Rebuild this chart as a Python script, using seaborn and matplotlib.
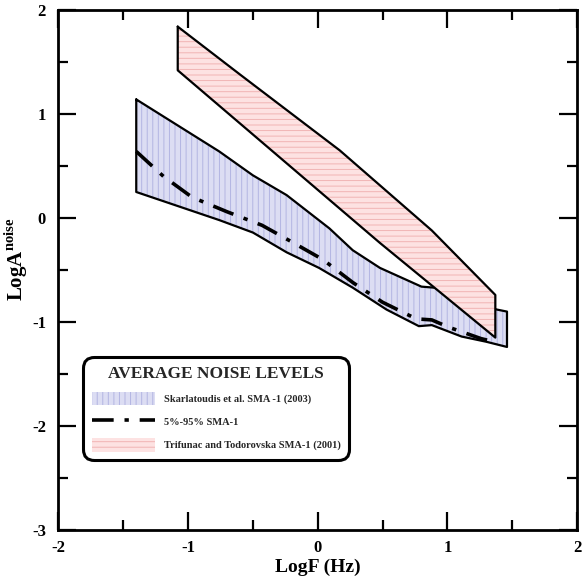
import matplotlib
matplotlib.use('Agg')
import matplotlib.pyplot as plt
import seaborn as sns
import pandas as pd
from matplotlib.patches import Patch
from matplotlib.lines import Line2D
from matplotlib.ticker import MultipleLocator

# Skarlatoudis et al. SMA-1 (2003) band
sk_upper_x = [-1.40, -0.76, -0.50, -0.24, 0.09, 0.27, 0.48, 0.80, 0.90, 1.38, 1.46]
sk_upper_y = [1.14, 0.64, 0.41, 0.22, -0.10, -0.31, -0.48, -0.66, -0.67, -0.88, -0.90]
sk_lower_x = [-1.40, -0.76, -0.50, -0.24, 0.01, 0.27, 0.53, 0.78, 0.88, 1.11, 1.30, 1.46]
sk_lower_y = [0.25, -0.02, -0.14, -0.33, -0.48, -0.67, -0.88, -1.04, -1.03, -1.14, -1.19, -1.24]

# Trifunac and Todorovska SMA-1 (2001) band
tt_upper_x = [-1.08, -0.60, 0.17, 0.88, 1.37]
tt_upper_y = [1.84, 1.38, 0.65, -0.12, -0.74]
tt_lower_x = [-1.08, 0.48, 1.37]
tt_lower_y = [1.42, -0.24, -1.15]

# 5%-95% SMA-1 curve
dd_x = [-1.40, -1.19, -0.97, -0.70, -0.43, -0.20, 0.04, 0.27, 0.50, 0.76, 0.88, 1.01, 1.26, 1.36]
dd_y = [0.64, 0.40, 0.20, 0.06, -0.07, -0.23, -0.40, -0.62, -0.81, -0.97, -0.98, -1.05, -1.16, -1.19]

x_ticks = [-2, -1, 0, 1, 2]
y_ticks = [-3, -2, -1, 0, 1, 2]
legend_labels = ['Skarlatoudis et al. SMA -1 (2003)', '5%-95% SMA-1',
                 'Trifunac and Todorovska SMA-1 (2001)']

BLUE_FILL, BLUE_HATCH = '#dcddf3', '#b3b5e2'
PINK_FILL, PINK_HATCH = '#fde2e2', '#f1b4b4'
DASHDOT = (0, (6, 3, 1.2, 3))

sns.set_theme(style='ticks')
plt.rcParams['font.family'] = ['Liberation Serif', 'DejaVu Serif']
plt.rcParams['font.weight'] = 'bold'
plt.rcParams['axes.unicode_minus'] = False
plt.rcParams['mathtext.fontset'] = 'custom'
plt.rcParams['mathtext.bf'] = 'Liberation Serif:bold'
plt.rcParams['mathtext.rm'] = 'Liberation Serif:bold'
plt.rcParams['hatch.linewidth'] = 0.7


def band(upper_x, upper_y, lower_x, lower_y):
    xs = upper_x + lower_x[::-1]
    ys = upper_y + lower_y[::-1]
    return xs + xs[:1], ys + ys[:1]


fig, ax = plt.subplots(figsize=(5.83, 5.81), dpi=100)
fig.subplots_adjust(left=0.1003, right=0.9897, top=0.9828, bottom=0.0878)

bx, by = band(sk_upper_x, sk_upper_y, sk_lower_x, sk_lower_y)
ax.fill(bx, by, facecolor=BLUE_FILL, edgecolor=BLUE_HATCH, hatch='|||', lw=0, zorder=1)
ax.plot(bx, by, color='black', lw=1.6, zorder=2)

dd = pd.DataFrame({'x': dd_x, 'y': dd_y})
sns.lineplot(data=dd, x='x', y='y', sort=False, estimator=None, color='black', lw=2.6, ax=ax, zorder=3)
ax.lines[-1].set_linestyle(DASHDOT)

px, py = band(tt_upper_x, tt_upper_y, tt_lower_x, tt_lower_y)
ax.fill(px, py, facecolor=PINK_FILL, edgecolor=PINK_HATCH, hatch='---', lw=0, zorder=4)
ax.plot(px, py, color='black', lw=1.6, zorder=5)

ax.set_xlim(-2, 2)
ax.set_ylim(-3, 2)
ax.set_xticks(x_ticks)
ax.set_yticks(y_ticks)
ax.xaxis.set_minor_locator(MultipleLocator(0.5))
ax.yaxis.set_minor_locator(MultipleLocator(0.5))
ax.tick_params(which='both', direction='in', top=True, right=True, width=1.6, color='black',
               labelsize=12, labelcolor='black')
ax.tick_params(which='major', length=13)
ax.tick_params(which='minor', length=7)
ax.tick_params(axis='x', pad=7)
ax.tick_params(axis='y', pad=9)
for spine in ax.spines.values():
    spine.set_linewidth(2.0)
    spine.set_color('black')

ax.set_xlabel('LogF (Hz)', fontsize=14, fontweight='bold', color='black', labelpad=2)
ax.set_ylabel(r'LogA$^{\mathbf{noise}}$', fontsize=15, fontweight='bold', color='black')
ax.yaxis.set_label_coords(-0.055, 0.52)

handles = [
    Patch(facecolor=BLUE_FILL, edgecolor=BLUE_HATCH, hatch='|||', lw=0),
    Line2D([], [], color='black', lw=2.6, linestyle=DASHDOT),
    Patch(facecolor=PINK_FILL, edgecolor=PINK_HATCH, hatch='---', lw=0),
]
leg = ax.legend(handles, legend_labels, title='AVERAGE NOISE LEVELS', loc='upper left',
                bbox_to_anchor=(0.047, 0.333), borderaxespad=0,
                prop={'family': 'Liberation Serif', 'weight': 'bold', 'size': 7.5},
                title_fontproperties={'family': 'Liberation Serif', 'weight': 'bold', 'size': 12.5},
                handlelength=6.1, handleheight=1.6, handletextpad=0.8, labelspacing=0.95,
                borderpad=0.85, fancybox=True, framealpha=1, edgecolor='black')
leg.get_frame().set_linewidth(2.2)
leg.get_frame().set_boxstyle('round', pad=0, rounding_size=1.1)

fig.savefig('out.png', dpi=100)
